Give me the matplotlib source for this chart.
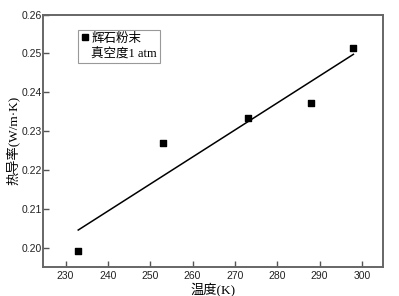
import numpy as np
import matplotlib.pyplot as plt
from matplotlib.lines import Line2D

# data
temp = [233, 253, 273, 288, 298]
k_val = [0.1993, 0.2270, 0.2335, 0.2372, 0.2513]
xticks = [230, 240, 250, 260, 270, 280, 290, 300]
yticks = [0.20, 0.21, 0.22, 0.23, 0.24, 0.25, 0.26]

serif_cjk = ['Liberation Serif', 'Noto Sans CJK SC']

fig = plt.figure(figsize=(3.99, 2.96), dpi=100)
ax = fig.add_axes([0.108, 0.098, 0.852, 0.853])

ax.scatter(temp, k_val, marker='s', s=22, color='black', zorder=3)
p = np.polyfit(temp, k_val, 1)
xf = np.array([temp[0], temp[-1]])
ax.plot(xf, np.polyval(p, xf), color='black', lw=1.1)

ax.set_xlim(224.7, 305)
ax.set_ylim(0.1952, 0.26)
ax.set_xticks(xticks)
ax.set_yticks(yticks)
ax.set_yticklabels(['%.2f' % v for v in yticks])
for lab in ax.get_xticklabels() + ax.get_yticklabels():
    lab.set_family('Liberation Sans')
    lab.set_fontsize(7.5)
    lab.set_color('#222222')
ax.tick_params(direction='in', length=4, width=1, color='#555555')
ax.tick_params(axis='y', pad=1)
ax.tick_params(axis='x', pad=3)

for s in ax.spines.values():
    s.set_color('#666666')
    s.set_linewidth(1.4)

ax.set_xlabel('温度(K)', family=serif_cjk, fontsize=9.5, va='center')
ax.set_ylabel('热导率(W/m·K)', family=serif_cjk, fontsize=9.5, va='center')
ax.xaxis.set_label_coords(0.5, -0.091)
ax.yaxis.set_label_coords(-0.09, 0.5)

h1 = Line2D([], [], marker='s', ls='none', color='black', markersize=5)
h2 = Line2D([], [], ls='none', marker=None)
leg = ax.legend([h1, h2], ['辉石粉末', '真空度1 atm'], loc='upper left',
                bbox_to_anchor=(0.103, 0.94), borderaxespad=0,
                prop={'family': serif_cjk, 'size': 9},
                handlelength=0.6, handletextpad=0.2, borderpad=0.25,
                labelspacing=0.25, fancybox=False, framealpha=1)
leg.get_frame().set_edgecolor('#999999')
leg.get_frame().set_linewidth(0.8)

fig.savefig('out.png', dpi=100)
